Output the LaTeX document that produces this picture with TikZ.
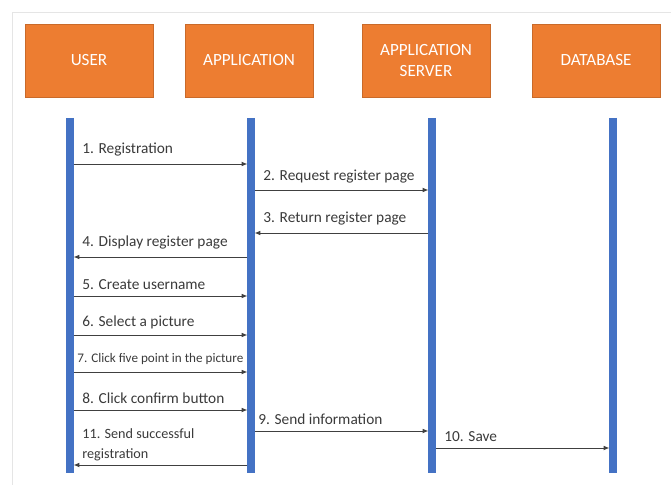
\documentclass[tikz,border=0pt]{standalone}
\usepackage{fontspec}
\setmainfont{Carlito}
\usepackage{xcolor}
\usetikzlibrary{arrows.meta,calc,shadows}
\definecolor{boxorange}{HTML}{ED7D31}
\definecolor{lifeblue}{HTML}{4472C4}
\definecolor{txtgray}{HTML}{3A3A3A}

\begin{document}
\begin{tikzpicture}[>={Latex[length=5pt,width=4pt]}, x=0.03cm, y=-0.03cm,
  actor/.style={fill=boxorange, draw=boxorange!85!black, line width=0.4pt,
    minimum width=3.84cm, minimum height=2.19cm, text=white, align=center,
    font=\fontsize{14.6}{18}\selectfont,
    drop shadow={opacity=0.25, shadow xshift=0.6pt, shadow yshift=-1pt}},
  life/.style={lifeblue, line width=6pt},
  msg/.style={->, draw=black!75, line width=0.7pt, shorten >=3pt, shorten <=3pt},
  lbl/.style={anchor=south west, inner sep=1pt, text=txtgray,
    font=\fontsize{13.1}{14}\selectfont}]
  \useasboundingbox (0,0) rectangle (671,485);
  \draw[black!10] (671,12) -| (12,485);
  % actors
  \node[actor] (user) at (89,60.5) {USER};
  \node[actor] (app)  at (249,60.5) {APPLICATION};
  \node[actor] (srv)  at (426,60.5) {APPLICATION\\SERVER};
  \node[actor] (db)   at (596,60.5) {DATABASE};
  % lifelines
  \coordinate (uT) at (70,118);  \coordinate (uB) at (70,473);
  \coordinate (aT) at (251,118); \coordinate (aB) at (251,473);
  \coordinate (sT) at (432,118); \coordinate (sB) at (432,473);
  \coordinate (dT) at (613,118); \coordinate (dB) at (613,473);
  \draw[life] (uT) -- (uB);
  \draw[life] (aT) -- (aB);
  \draw[life] (sT) -- (sB);
  \draw[life] (dT) -- (dB);
  % messages
  \draw[msg] (uT |- 0,164) -- (aT |- 0,164);
  \node[lbl] (m1) at ($(uT |- 0,164)+(11,-6)$) {1. Registration};
  \draw[msg] (aT |- 0,190) -- (sT |- 0,190);
  \node[lbl] (m2) at ($(aT |- 0,190)+(11,-5)$) {2. Request register page};
  \draw[msg] (sT |- 0,233) -- (aT |- 0,233);
  \node[lbl] (m3) at ($(aT |- 0,233)+(11,-6)$) {3. Return register page};
  \draw[msg] (aT |- 0,257) -- (uT |- 0,257);
  \node[lbl] (m4) at ($(uT |- 0,257)+(11,-6)$) {4. Display register page};
  \draw[msg] (uT |- 0,296) -- (aT |- 0,296);
  \node[lbl] (m5) at ($(uT |- 0,296)+(11,-5)$) {5. Create username};
  \draw[msg] (uT |- 0,335) -- (aT |- 0,335);
  \node[lbl] (m6) at ($(uT |- 0,335)+(11,-5)$) {6. Select a picture};
  \draw[msg] (uT |- 0,372) -- (aT |- 0,372);
  \node[lbl, font=\fontsize{11.2}{12}\selectfont] (m7) at ($(uT |- 0,372)+(6,-6)$)
    {7. Click five point in the picture};
  \draw[msg] (uT |- 0,410) -- (aT |- 0,410);
  \node[lbl] (m8) at ($(uT |- 0,410)+(11,-5)$) {8. Click confirm button};
  \draw[msg] (aT |- 0,431) -- (sT |- 0,431);
  \node[lbl] (m9) at ($(aT |- 0,431)+(6,-5)$) {9. Send information};
  \draw[msg] (sT |- 0,448) -- (dT |- 0,448);
  \node[lbl] (m10) at ($(sT |- 0,448)+(11,-5)$) {10. Save};
  \draw[msg] (aT |- 0,465) -- (uT |- 0,465);
  \node[lbl, align=left, font=\fontsize{12.1}{16.5}\selectfont] (m11)
    at ($(uT |- 0,465)+(11,-3)$) {11. Send successful\\registration};
\end{tikzpicture}
\end{document}
